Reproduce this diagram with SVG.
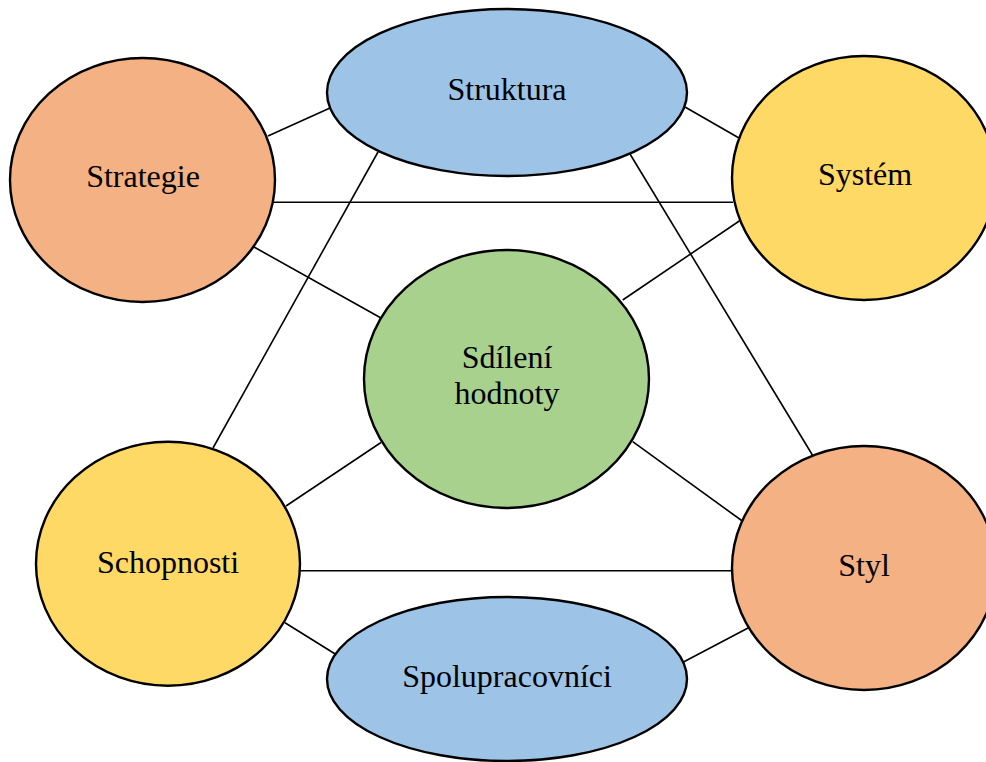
<svg xmlns="http://www.w3.org/2000/svg" width="986" height="762" viewBox="0 0 986 762">
<style>
.n{stroke:#000;stroke-width:2.4}
.o{fill:#F4B183}.b{fill:#9DC3E6}.y{fill:#FFD966}.g{fill:#A9D18E}
.c line{stroke:#000;stroke-width:1.6}
text{font-family:"Liberation Serif","Times New Roman",serif;font-size:32px;fill:#000;text-anchor:middle}
</style>
<rect width="986" height="762" fill="#fff"/>
<g id="connectors" class="c">
<line x1="268" y1="136" x2="330" y2="108"/>
<line x1="272" y1="202.3" x2="733" y2="202.3"/>
<line x1="254" y1="247" x2="381" y2="318"/>
<line x1="378" y1="152" x2="213" y2="448"/>
<line x1="685" y1="107" x2="739" y2="138"/>
<line x1="630" y1="154" x2="813" y2="456"/>
<line x1="622.7" y1="300" x2="740" y2="220.5"/>
<line x1="381" y1="442.5" x2="286" y2="506"/>
<line x1="632.7" y1="441.7" x2="743" y2="521.5"/>
<line x1="299" y1="570.7" x2="733" y2="570.7"/>
<line x1="285" y1="622.7" x2="336" y2="654.5"/>
<line x1="683" y1="662.3" x2="749" y2="627.5"/>
</g>
<g id="strategie"><ellipse class="n o" cx="142.5" cy="180" rx="132.5" ry="122"/><text x="143" y="187">Strategie</text></g>
<g id="struktura"><ellipse class="n b" cx="507" cy="92.5" rx="180" ry="83.5"/><text x="507" y="100">Struktura</text></g>
<g id="system"><ellipse class="n y" cx="864" cy="178" rx="132" ry="122"/><text x="865" y="185">Systém</text></g>
<g id="sdileni"><ellipse class="n g" cx="506.5" cy="379" rx="142.5" ry="129"/><text x="507" y="368">Sdílení</text><text x="507" y="404">hodnoty</text></g>
<g id="schopnosti"><ellipse class="n y" cx="168" cy="563.7" rx="132" ry="122"/><text x="168" y="572.5">Schopnosti</text></g>
<g id="styl"><ellipse class="n o" cx="864" cy="568" rx="132" ry="122"/><text x="864" y="576">Styl</text></g>
<g id="spolupracovnici"><ellipse class="n b" cx="507" cy="679" rx="180" ry="82"/><text x="507" y="687">Spolupracovníci</text></g>
</svg>
